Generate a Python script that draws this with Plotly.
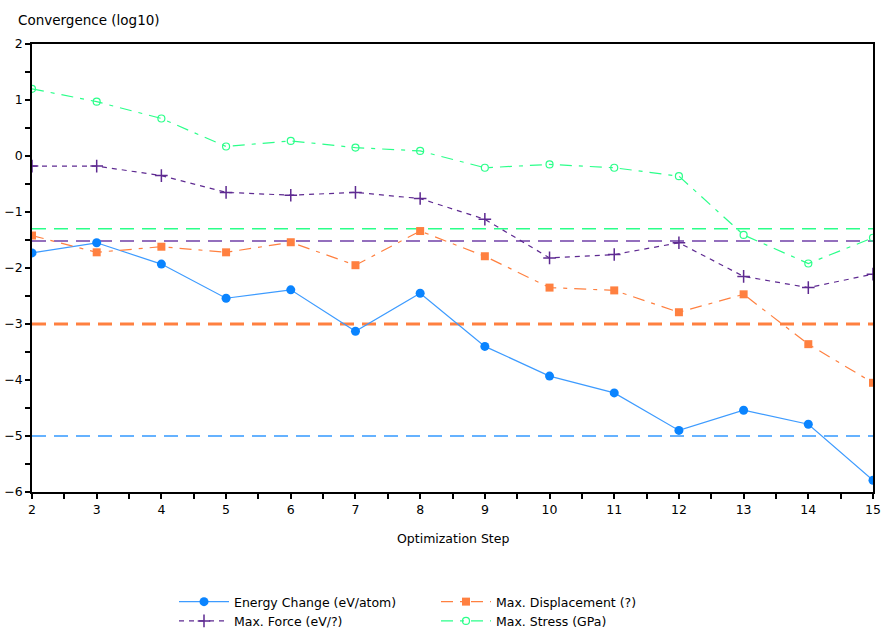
import plotly.graph_objects as go

steps = [2, 3, 4, 5, 6, 7, 8, 9, 10, 11, 12, 13, 14, 15]
energy = [-1.73, -1.55, -1.93, -2.54, -2.39, -3.13, -2.45, -3.40, -3.93, -4.23, -4.90, -4.54, -4.79, -5.79]
displacement = [-1.42, -1.72, -1.62, -1.72, -1.54, -1.95, -1.34, -1.79, -2.35, -2.40, -2.79, -2.47, -3.36, -4.05]
force = [-0.18, -0.18, -0.35, -0.65, -0.70, -0.65, -0.76, -1.13, -1.82, -1.76, -1.55, -2.15, -2.35, -2.11]
stress = [1.20, 0.97, 0.67, 0.17, 0.27, 0.15, 0.09, -0.21, -0.15, -0.21, -0.36, -1.41, -1.92, -1.46]

thresholds = {"energy": -5.0, "displacement": -3.0, "force": -1.52, "stress": -1.30}
x_span = [2, 15]

blue = "#0A84FF"
orange = "#FF8040"
purple = "#5E2A91"
green = "#2BFF8A"

W, H = 881, 631
L, R, T, B = 32, 8, 44, 139
PW, PH = W - L - R, H - T - B

fig = go.Figure()

# threshold lines
fig.add_trace(go.Scatter(x=x_span, y=[thresholds["stress"]] * 2, mode="lines",
                         line=dict(color=green, width=1.5, dash="14px,8px"), showlegend=False, hoverinfo="skip"))
fig.add_trace(go.Scatter(x=x_span, y=[thresholds["force"]] * 2, mode="lines",
                         line=dict(color="#7040A8", width=1.5, dash="14px,8px"), showlegend=False, hoverinfo="skip"))
fig.add_trace(go.Scatter(x=x_span, y=[thresholds["displacement"]] * 2, mode="lines",
                         line=dict(color=orange, width=3, dash="14px,8px"), showlegend=False, hoverinfo="skip"))
fig.add_trace(go.Scatter(x=x_span, y=[thresholds["energy"]] * 2, mode="lines",
                         line=dict(color="#3399FF", width=1.5, dash="14px,8px"), showlegend=False, hoverinfo="skip"))

fig.add_trace(go.Scatter(x=steps, y=energy, mode="lines+markers", name="Energy Change (eV/atom)",
                         legend="legend",
                         line=dict(color="#3D9BFF", width=1.2),
                         marker=dict(symbol="circle", size=9, color=blue)))
fig.add_trace(go.Scatter(x=steps, y=force, mode="lines+markers", name="Max. Force (eV/?)",
                         legend="legend",
                         line=dict(color=purple, width=1.2, dash="5px,5px"),
                         marker=dict(symbol="cross-thin", size=9, color=purple, line=dict(color=purple, width=1.5))))
fig.add_trace(go.Scatter(x=steps, y=displacement, mode="lines+markers", name="Max. Displacement (?)",
                         legend="legend2",
                         line=dict(color=orange, width=1.2, dash="12px,7px,4px,7px"),
                         marker=dict(symbol="square", size=8, color=orange)))
fig.add_trace(go.Scatter(x=steps, y=stress, mode="lines+markers", name="Max. Stress (GPa)",
                         legend="legend2",
                         line=dict(color=green, width=1.2, dash="12px,7px,4px,7px"),
                         marker=dict(symbol="circle-open", size=7, color=green, line=dict(color=green, width=1.2))))

font = dict(family="DejaVu Sans, sans-serif", size=12.5, color="#000000")
title_font = dict(family="DejaVu Sans, sans-serif", size=13.5, color="#000000")

legend_common = dict(orientation="v", xanchor="left", yanchor="top",
                     itemwidth=50, font=font, traceorder="normal", tracegroupgap=0,
                     bgcolor="rgba(0,0,0,0)")
legend_top = -(587 - (T + PH)) / PH

fig.update_layout(
    width=W, height=H,
    margin=dict(l=L, r=R, t=T, b=B, autoexpand=False),
    paper_bgcolor="white", plot_bgcolor="white",
    font=font,
    showlegend=True,
    legend=dict(x=(174 - L) / PW, y=legend_top, **legend_common),
    legend2=dict(x=(436 - L) / PW, y=legend_top, **legend_common),
    annotations=[
        dict(text="Convergence (log10)", xref="paper", yref="paper", x=(16 - L) / PW, y=1 + (T - 20) / PH,
             xanchor="left", yanchor="middle", showarrow=False, font=title_font),
        dict(text="Optimization Step", xref="paper", yref="paper", x=0.5, y=-(538 - (T + PH)) / PH,
             xanchor="center", yanchor="middle", showarrow=False, font=font),
    ],
)

axis_common = dict(showgrid=False, zeroline=False, automargin=False,
                   showline=True, linecolor="black", linewidth=1.5, mirror=True,
                   ticks="outside", ticklen=5, tickcolor="black", tickwidth=1.5,
                   minor=dict(dtick=0.5, ticks="outside", ticklen=5, tickcolor="black", tickwidth=1.5),
                   tickfont=font, ticklabeloverflow="allow")
fig.update_xaxes(range=[2, 15], dtick=1, tick0=2, **axis_common)
fig.update_yaxes(range=[-6, 2], dtick=1, tick0=0, **axis_common)

fig.write_html("out.html", config={"displayModeBar": False},
               post_script="document.body.style.margin='0';document.body.style.overflow='hidden';")
